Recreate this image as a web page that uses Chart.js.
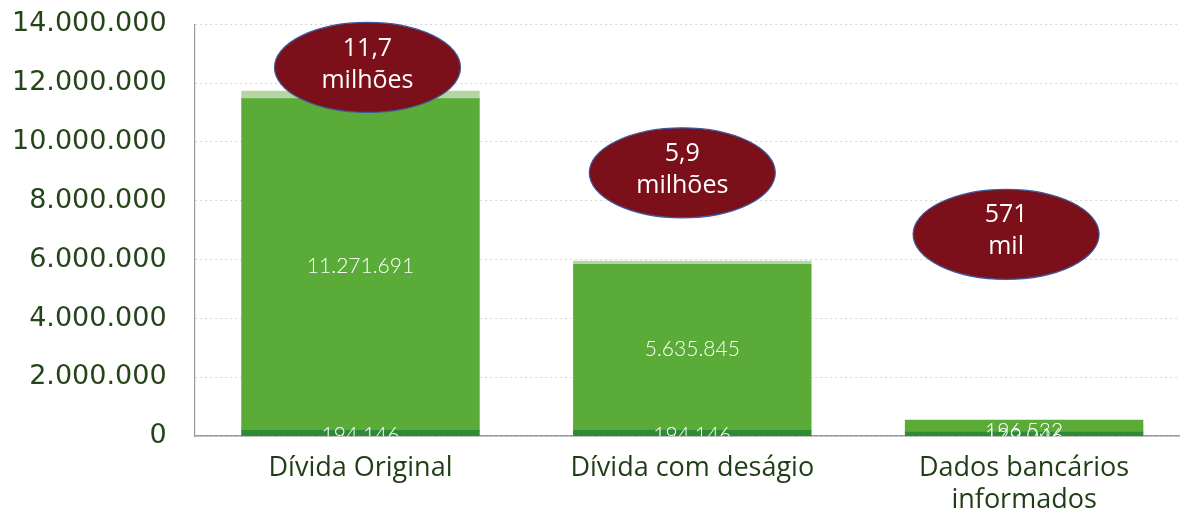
<!DOCTYPE html>
<html>
<head>
<meta charset="utf-8">
<script src="https://cdn.jsdelivr.net/npm/chart.js@4.4.0/dist/chart.umd.min.js"></script>
<style>
  html, body { margin: 0; padding: 0; background: #fff; overflow: hidden; }
  #wrap { position: absolute; left: -30px; top: -20px; width: 1220px; height: 553px; }
</style>
</head>
<body>
<div id="wrap"><canvas id="chart"></canvas></div>
<script>
const categories = ['Dívida Original', 'Dívida com deságio', ['Dados bancários', 'informados']];
const baseValues = [194146, 194146, 129046];
const mainValues = [11271691, 5635845, 196532];
const topValues = [250000, 110000, 215000];
const totalLabels = [['11,7', 'milhões'], ['5,9', 'milhões'], ['571', 'mil']];
const bubbleLevels = [12530000, 8950000, 6860000];
const bubbleShift = [7, -10, -18];

const fmt = v => String(Math.round(v)).replace(/\B(?=(\d{3})+(?!\d))/g, '.');

// value labels inside the bars (clipped to the plot area)
const valueLabels = {
    id: 'valueLabels',
    afterDatasetsDraw(chart) {
        const ctx = chart.ctx;
        const area = chart.chartArea;
        ctx.save();
        ctx.beginPath();
        ctx.rect(area.left, area.top, area.right - area.left, area.bottom - area.top);
        ctx.clip();
        ctx.fillStyle = '#ffffff';
        ctx.font = '300 21px Lato';
        ctx.textAlign = 'center';
        ctx.textBaseline = 'middle';
        [0, 1].forEach(di => {
            const meta = chart.getDatasetMeta(di);
            meta.data.forEach((bar, i) => {
                const v = chart.data.datasets[di].data[i];
                const y = (bar.y + bar.base) / 2 + 2;
                ctx.fillText(fmt(v), bar.x, y);
            });
        });
        ctx.restore();
    }
};

// red ellipses with totals
const bubbles = {
    id: 'bubbles',
    afterDatasetsDraw(chart) {
        const ctx = chart.ctx;
        const yScale = chart.scales.y;
        const meta = chart.getDatasetMeta(0);
        ctx.save();
        meta.data.forEach((bar, i) => {
            const cx = bar.x + bubbleShift[i];
            const cy = yScale.getPixelForValue(bubbleLevels[i]);
            ctx.beginPath();
            ctx.ellipse(cx, cy, 93, 45, 0, 0, Math.PI * 2);
            ctx.fillStyle = '#7b101a';
            ctx.fill();
            ctx.lineWidth = 1.2;
            ctx.strokeStyle = '#3d5a9e';
            ctx.stroke();
            ctx.fillStyle = '#ffffff';
            ctx.font = '25px "Open Sans"';
            ctx.textAlign = 'center';
            ctx.textBaseline = 'middle';
            ctx.fillText(totalLabels[i][0], cx, cy - 19);
            ctx.fillText(totalLabels[i][1], cx, cy + 13);
        });
        ctx.restore();
    }
};

const ctx = document.getElementById('chart').getContext('2d');

const chart = new Chart(ctx, {
    type: 'bar',
    data: {
        labels: categories,
        datasets: [
            { label: 'Base', data: baseValues, backgroundColor: '#2f8a35', inflateAmount: 0.6 },
            { label: 'Principal', data: mainValues, backgroundColor: '#5aab37', inflateAmount: 0.6 },
            { label: 'Topo', data: topValues, backgroundColor: ['#b7d4a5', '#b7d4a5', '#5aab37'], inflateAmount: 0.6 }
        ]
    },
    options: {
        responsive: true,
        maintainAspectRatio: false,
        animation: false,
        layout: { padding: { top: 0, left: 14 } },
        barPercentage: 0.715,
        categoryPercentage: 1,
        plugins: {
            legend: { display: false },
            tooltip: { enabled: false }
        },
        scales: {
            x: {
                stacked: true,
                grid: { display: false, drawTicks: false },
                border: { color: '#9a9a9a', width: 1.5 },
                ticks: {
                    color: '#1f3d14',
                    font: { family: 'Open Sans', size: 27 },
                    padding: 16,
                    maxRotation: 0
                }
            },
            y: {
                stacked: true,
                min: 0,
                max: 14000000,
                grid: { color: '#d4d4d4', tickLength: 0 },
                border: { color: '#9a9a9a', width: 1.2, dash: [2, 3] },
                ticks: {
                    stepSize: 2000000,
                    color: '#24451a',
                    font: { family: 'DejaVu Sans', size: 27 },
                    padding: 28,
                    callback: v => fmt(v)
                }
            }
        }
    },
    plugins: [valueLabels, bubbles]
});
</script>
</body>
</html>
